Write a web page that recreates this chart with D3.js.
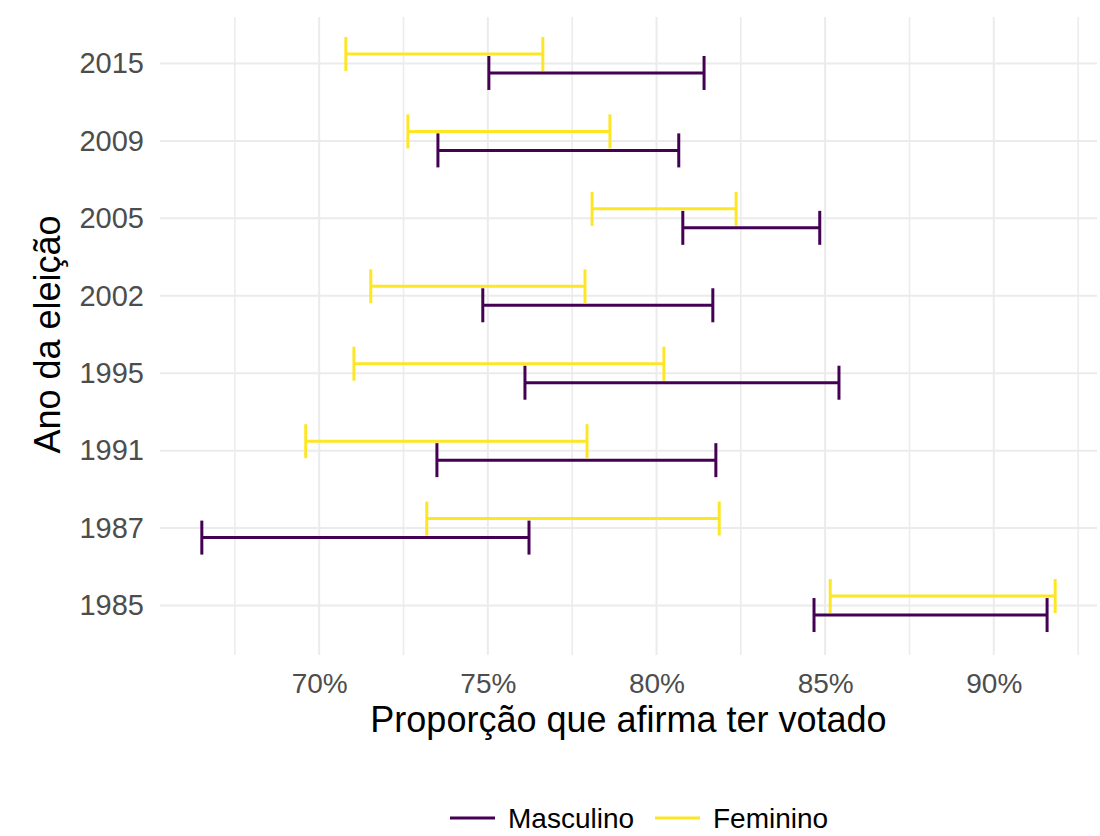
<!DOCTYPE html>
<meta charset="utf-8">
<script src="https://d3js.org/d3.v7.min.js"></script>
<style>
  body { margin: 0; background: #fff; }
  text { font-family: "Liberation Sans", Arial, sans-serif; }
</style>
<body>
<div id="my_dataviz"></div>
<script>

// years, top to bottom
var years = ["2015", "2009", "2005", "2002", "1995", "1991", "1987", "1985"];
// intervals in percent
var mascLow  = [75.03, 73.52, 80.78, 74.85, 76.10, 73.49, 66.52, 84.67];
var mascHigh = [81.41, 80.66, 84.84, 81.67, 85.41, 81.76, 76.22, 91.58];
var femLow   = [70.79, 72.63, 78.09, 71.53, 71.03, 69.60, 73.19, 85.15];
var femHigh  = [76.63, 78.62, 82.36, 77.88, 80.22, 77.94, 81.86, 91.82];
var xTicks = [70, 75, 80, 85, 90];
var xMinor = [67.5, 72.5, 77.5, 82.5, 87.5, 92.5];

var series = [
  {name: "Masculino", color: "#440154", low: mascLow, high: mascHigh, dy: 9.5},
  {name: "Feminino",  color: "#FDE725", low: femLow,  high: femHigh,  dy: -9.5}
];

var W = 1100, H = 836;
var pLeft = 160, pRight = 1097, pTop = 17, pBottom = 652;

var svg = d3.select("#my_dataviz")
  .append("svg")
  .attr("width", W)
  .attr("height", H);

// scales
var x = d3.scaleLinear()
  .domain([65.28, 93.06])
  .range([pLeft, pRight]);

var y = d3.scalePoint()
  .domain(years)
  .range([pTop, pBottom])
  .padding(0.6);

// grid
var grid = svg.append("g");
grid.selectAll(".minor")
  .data(xMinor)
  .enter().append("line")
  .attr("x1", function(d) { return x(d); })
  .attr("x2", function(d) { return x(d); })
  .attr("y1", pTop).attr("y2", pBottom + 3)
  .attr("stroke", "#ececec")
  .attr("stroke-width", 1.6);
grid.selectAll(".major")
  .data(xTicks)
  .enter().append("line")
  .attr("x1", function(d) { return x(d); })
  .attr("x2", function(d) { return x(d); })
  .attr("y1", pTop).attr("y2", pBottom + 3)
  .attr("stroke", "#ebebeb")
  .attr("stroke-width", 2);
grid.selectAll(".hline")
  .data(years)
  .enter().append("line")
  .attr("x1", pLeft).attr("x2", pRight)
  .attr("y1", function(d) { return y(d); })
  .attr("y2", function(d) { return y(d); })
  .attr("stroke", "#ebebeb")
  .attr("stroke-width", 2);

// X axis
var xAxis = svg.append("g")
  .attr("transform", "translate(0," + (pBottom + 3) + ")")
  .call(d3.axisBottom(x).tickValues(xTicks).tickSize(0).tickPadding(18)
    .tickFormat(function(d) { return d + "%"; }));
xAxis.select(".domain").remove();
xAxis.selectAll("text")
  .style("font-size", "28px")
  .style("fill", "#4d4d4d")
  .style("font-family", "'Liberation Sans', Arial, sans-serif");

// Y axis
var yAxis = svg.append("g")
  .attr("transform", "translate(" + pLeft + ",0)")
  .call(d3.axisLeft(y).tickSize(0).tickPadding(16));
yAxis.select(".domain").remove();
yAxis.selectAll("text")
  .style("font-size", "29px")
  .style("fill", "#4d4d4d")
  .style("font-family", "'Liberation Sans', Arial, sans-serif");

// titles
svg.append("text")
  .attr("x", (pLeft + pRight) / 2)
  .attr("y", 732)
  .attr("text-anchor", "middle")
  .style("font-size", "36px")
  .style("fill", "#000")
  .text("Proporção que afirma ter votado");

svg.append("text")
  .attr("transform", "translate(60," + ((pTop + pBottom) / 2) + ") rotate(-90)")
  .attr("text-anchor", "middle")
  .style("font-size", "36px")
  .style("fill", "#000")
  .text("Ano da eleição");

// error bars
var capHalf = 17;
series.forEach(function(s) {
  var g = svg.append("g");
  var rows = years.map(function(yr, i) { return {yr: yr, lo: s.low[i], hi: s.high[i]}; });
  g.selectAll(".bar")
    .data(rows)
    .enter().append("line")
    .attr("x1", function(d) { return x(d.lo); })
    .attr("x2", function(d) { return x(d.hi); })
    .attr("y1", function(d) { return y(d.yr) + s.dy; })
    .attr("y2", function(d) { return y(d.yr) + s.dy; })
    .attr("stroke", s.color)
    .attr("stroke-width", 3);
  ["lo", "hi"].forEach(function(k) {
    g.selectAll(".cap" + k)
      .data(rows)
      .enter().append("line")
      .attr("x1", function(d) { return x(d[k]); })
      .attr("x2", function(d) { return x(d[k]); })
      .attr("y1", function(d) { return y(d.yr) + s.dy - capHalf; })
      .attr("y2", function(d) { return y(d.yr) + s.dy + capHalf; })
      .attr("stroke", s.color)
      .attr("stroke-width", 3);
  });
});

// legend
var legend = svg.append("g").attr("transform", "translate(0,818)");
var lx = [450, 655];
series.forEach(function(s, i) {
  legend.append("line")
    .attr("x1", lx[i]).attr("x2", lx[i] + 45)
    .attr("y1", 0).attr("y2", 0)
    .attr("stroke", s.color)
    .attr("stroke-width", 3);
  legend.append("text")
    .attr("x", lx[i] + 58)
    .attr("y", 10)
    .style("font-size", "28px")
    .style("fill", "#000")
    .text(s.name);
});

</script>
</body>
